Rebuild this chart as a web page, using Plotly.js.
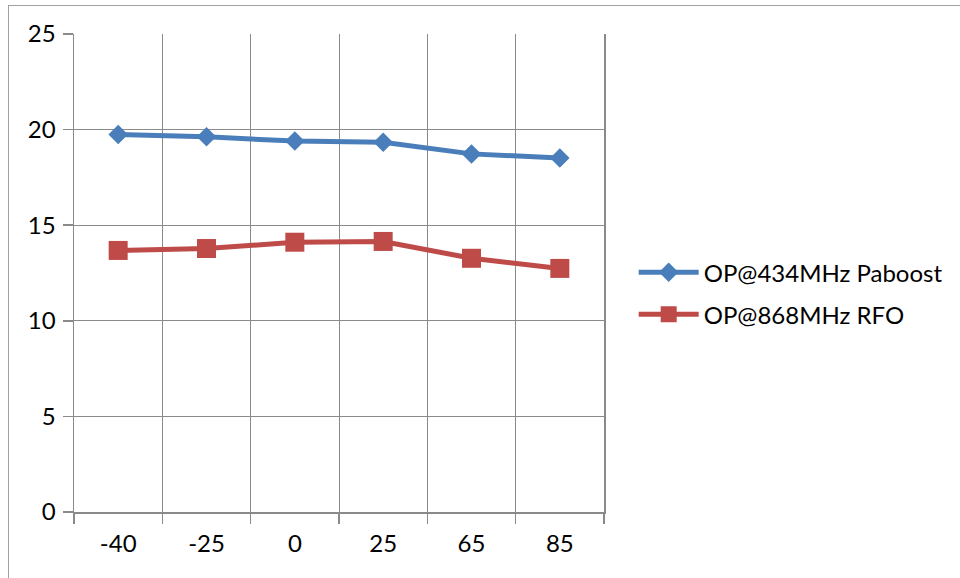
<!DOCTYPE html>
<html>
<head>
<meta charset="utf-8">
<script src="https://cdn.plot.ly/plotly-3.0.1.min.js"></script>
<style>
  html, body { margin: 0; padding: 0; background: #ffffff; }
  #frame { position: absolute; left: 8px; top: 5px; width: 1000px; height: 1000px; border: 1px solid #a0a0a0; box-sizing: border-box; }
  #chart { position: absolute; left: 0; top: 0; width: 960px; height: 578px; }
</style>
</head>
<body>
<div id="frame"></div>
<div id="chart"></div>
<script>
const categories = ["-40", "-25", "0", "25", "65", "85"];
const seriesNames = ["OP@434MHz Paboost", "OP@868MHz RFO"];
const paboost434 = [19.74, 19.62, 19.40, 19.34, 18.73, 18.52];
const rfo868 = [13.68, 13.78, 14.11, 14.15, 13.27, 12.74];
const yTicks = [0, 5, 10, 15, 20, 25];

const font = "Lato, 'Open Sans', sans-serif";
const gridColor = "#8a8a8a";

const traces = [
  {
    x: categories, y: paboost434, name: seriesNames[0], type: "scatter", mode: "lines+markers",
    line: { color: "#4a7ebb", width: 5 },
    marker: { symbol: "diamond", size: 15, color: "#4a7ebb" },
    legendgroup: "a"
  },
  {
    x: categories, y: rfo868, name: seriesNames[1], type: "scatter", mode: "lines+markers",
    line: { color: "#be4b48", width: 5 },
    marker: { symbol: "square", size: 19, color: "#be4b48" },
    legendgroup: "b"
  }
];

const layout = {
  width: 960, height: 578,
  margin: { l: 74, r: 352, t: 34, b: 66, pad: 0 },
  paper_bgcolor: "rgba(0,0,0,0)",
  plot_bgcolor: "rgba(0,0,0,0)",
  font: { family: font, size: 24, color: "#000000" },
  showlegend: true,
  legend: {
    x: 1.056, y: 0.457, xanchor: "left", yanchor: "middle",
    font: { family: font, size: 24, color: "#000000" },
    traceorder: "grouped", tracegroupgap: 8,
    itemwidth: 60, bgcolor: "rgba(0,0,0,0)"
  },
  xaxis: {
    type: "category",
    range: [-0.5, categories.length - 0.5],
    tickson: "boundaries",
    showgrid: true, gridcolor: gridColor, gridwidth: 1,
    showline: true, linecolor: gridColor, linewidth: 1.5,
    ticks: "outside", ticklen: 10, tickcolor: gridColor, tickwidth: 1.5,
    ticklabelstandoff: 10,
    tickfont: { family: font, size: 24 },
    zeroline: false, fixedrange: true
  },
  yaxis: {
    range: [0, 25], tickvals: yTicks, ticktext: yTicks.map(String),
    showgrid: true, gridcolor: gridColor, gridwidth: 1,
    showline: true, linecolor: gridColor, linewidth: 1.5, mirror: true,
    ticks: "outside", ticklen: 10, tickcolor: gridColor, tickwidth: 1.5,
    ticklabelstandoff: 2,
    tickfont: { family: font, size: 24 },
    zeroline: false, fixedrange: true
  }
};

Plotly.newPlot("chart", traces, layout, { displayModeBar: false, staticPlot: true });
</script>
</body>
</html>
